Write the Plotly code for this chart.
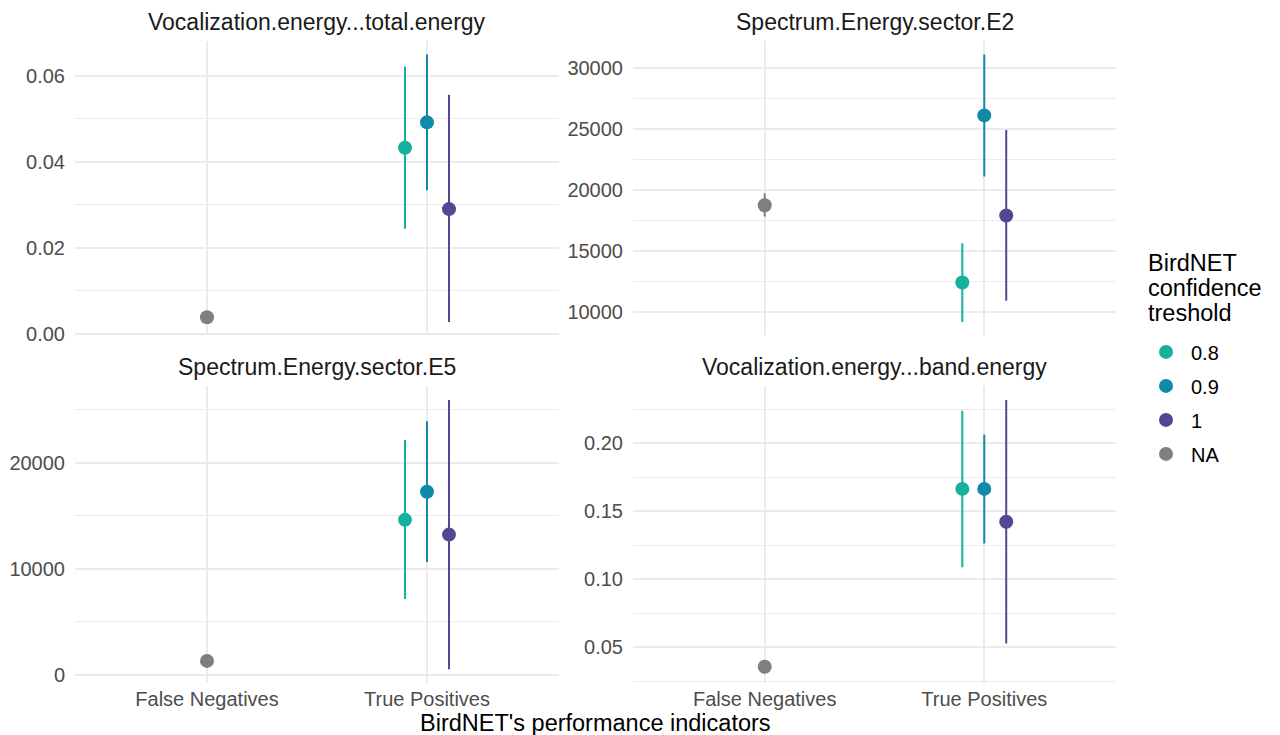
import plotly.graph_objects as go

# ---------------- data ----------------
categories = ["False Negatives", "True Positives"]
thresholds = ["0.8", "0.9", "1", "NA"]
threshold_category = ["True Positives", "True Positives", "True Positives", "False Negatives"]

panel_titles = [
    "Vocalization.energy...total.energy",
    "Spectrum.Energy.sector.E2",
    "Spectrum.Energy.sector.E5",
    "Vocalization.energy...band.energy",
]
legend_title_lines = ["BirdNET", "confidence", "treshold"]

# order of values: 0.8, 0.9, 1, NA
total_energy_mean = [0.0433, 0.0492, 0.0290, 0.0038]
total_energy_lower = [0.0244, 0.0334, 0.0027, 0.0033]
total_energy_upper = [0.0622, 0.0650, 0.0556, 0.0043]

sector_e2_mean = [12432, 26148, 17923, 18770]
sector_e2_lower = [9180, 21120, 10929, 17842]
sector_e2_upper = [15656, 31148, 24945, 19727]

sector_e5_mean = [14620, 17278, 13228, 1297]
sector_e5_lower = [7152, 10633, 506, 1000]
sector_e5_upper = [22152, 23924, 25949, 1600]

band_energy_mean = [0.1664, 0.1664, 0.1423, 0.0358]
band_energy_lower = [0.1089, 0.1264, 0.0530, 0.0340]
band_energy_upper = [0.2238, 0.2061, 0.2317, 0.0376]

panel_data = [
    (total_energy_mean, total_energy_lower, total_energy_upper),
    (sector_e2_mean, sector_e2_lower, sector_e2_upper),
    (sector_e5_mean, sector_e5_lower, sector_e5_upper),
    (band_energy_mean, band_energy_lower, band_energy_upper),
]

# ---------------- style ----------------
colors = {"0.8": "#14B29E", "0.9": "#108AA8", "1": "#524892", "NA": "#7F7F7F"}
OFF = 8                      # page body margin in the browser
SY = 0.987                   # observed vertical scale of the photograph
W, H = 1280 - 2 * OFF, 745
FONT = "Liberation Sans, Arial, Helvetica, sans-serif"
GRID = "#EBEBEB"


def px(x):
    return (x - OFF) / W


def py(y):
    return 1 - (y / SY - OFF) / H


# panel pixel boxes in target picture coords: (left, right, top, bottom)
boxes = [(75, 559, 41, 335), (633, 1116, 41, 335), (75, 559, 386, 682), (633, 1116, 386, 682)]
ytick_specs = [
    dict(dtick=0.02, tick0=0, tickformat=".2f", minor=0.01),
    dict(dtick=5000, tick0=0, tickformat="d", minor=2500),
    dict(dtick=10000, tick0=0, tickformat="d", minor=5000),
    dict(dtick=0.05, tick0=0, tickformat=".2f", minor=0.025),
]

dodge_width = 0.3

fig = go.Figure()
layout = dict(annotations=[])

for p in range(4):
    mean, lower, upper = panel_data[p]
    xs = "x" if p == 0 else f"x{p+1}"
    ys = "y" if p == 0 else f"y{p+1}"
    for cat in categories:
        idx = [i for i, c in enumerate(threshold_category) if c == cat]
        n = len(idx)
        for k, i in enumerate(idx):
            off = 0 if n == 1 else (k - (n - 1) / 2) * dodge_width / n
            x = categories.index(cat) + off
            th = thresholds[i]
            fig.add_trace(go.Scatter(
                x=[x], y=[mean[i]], mode="markers",
                marker=dict(size=14, color=colors[th]),
                error_y=dict(type="data", symmetric=False,
                             array=[upper[i] - mean[i]],
                             arrayminus=[mean[i] - lower[i]],
                             color=colors[th], thickness=2, width=0),
                name=th, legendgroup=th, showlegend=(p == 0),
                legendrank=thresholds.index(th) + 1,
                xaxis=xs, yaxis=ys,
            ))

    lo = min(lower)
    hi = max(upper)
    pad = 0.05 * (hi - lo)
    l, r, t, b = boxes[p]
    spec = ytick_specs[p]
    xkey = "xaxis" if p == 0 else f"xaxis{p+1}"
    ykey = "yaxis" if p == 0 else f"yaxis{p+1}"
    layout[xkey] = dict(
        domain=[px(l), px(r)], anchor=ys, range=[-0.6, 1.6],
        tickmode="array", tickvals=[0, 1], ticktext=categories,
        showticklabels=(p >= 2), showgrid=True, gridcolor=GRID, gridwidth=2,
        zeroline=False, showline=False, ticks="", ticklabelstandoff=2,
        tickfont=dict(size=20, color="#4D4D4D", family=FONT),
    )
    layout[ykey] = dict(
        domain=[py(b), py(t)], anchor=xs, range=[lo - pad, hi + pad],
        tick0=spec["tick0"], dtick=spec["dtick"], tickformat=spec["tickformat"],
        showgrid=True, gridcolor=GRID, gridwidth=2, zeroline=False, showline=False,
        ticks="", ticklabelstandoff=9,
        minor=dict(dtick=spec["minor"], tick0=0, showgrid=True, gridcolor=GRID, gridwidth=1),
        tickfont=dict(size=20, color="#4D4D4D", family=FONT),
    )
    layout["annotations"].append(dict(
        text=panel_titles[p], x=px((l + r) / 2), y=py(t - 19),
        xref="paper", yref="paper", xanchor="center", yanchor="middle",
        showarrow=False, font=dict(size=23, color="#1A1A1A", family=FONT),
    ))

layout["annotations"].append(dict(
    text="BirdNET's performance indicators", x=px((75 + 1116) / 2), y=py(722),
    xref="paper", yref="paper", xanchor="center", yanchor="middle",
    showarrow=False, font=dict(size=23.5, color="#000000", family=FONT),
))

# legend title lines
for j, line in enumerate(legend_title_lines):
    layout["annotations"].append(dict(
        text=line, x=px(1146), y=py(263 + 25 * j),
        xref="paper", yref="paper", xanchor="left", yanchor="middle",
        showarrow=False, font=dict(size=23.5, color="#000000", family=FONT),
    ))

fig.update_layout(
    **layout,
    width=W, height=H,
    margin=dict(l=0, r=0, t=0, b=0),
    paper_bgcolor="white", plot_bgcolor="white",
    font=dict(family=FONT),
    legend=dict(
        font=dict(size=20, color="#000000", family=FONT),
        x=px(1141), y=py(332), xanchor="left", yanchor="top",
        tracegroupgap=5, itemwidth=40, bgcolor="rgba(0,0,0,0)",
    ),
)

fig.write_html("out.html")
